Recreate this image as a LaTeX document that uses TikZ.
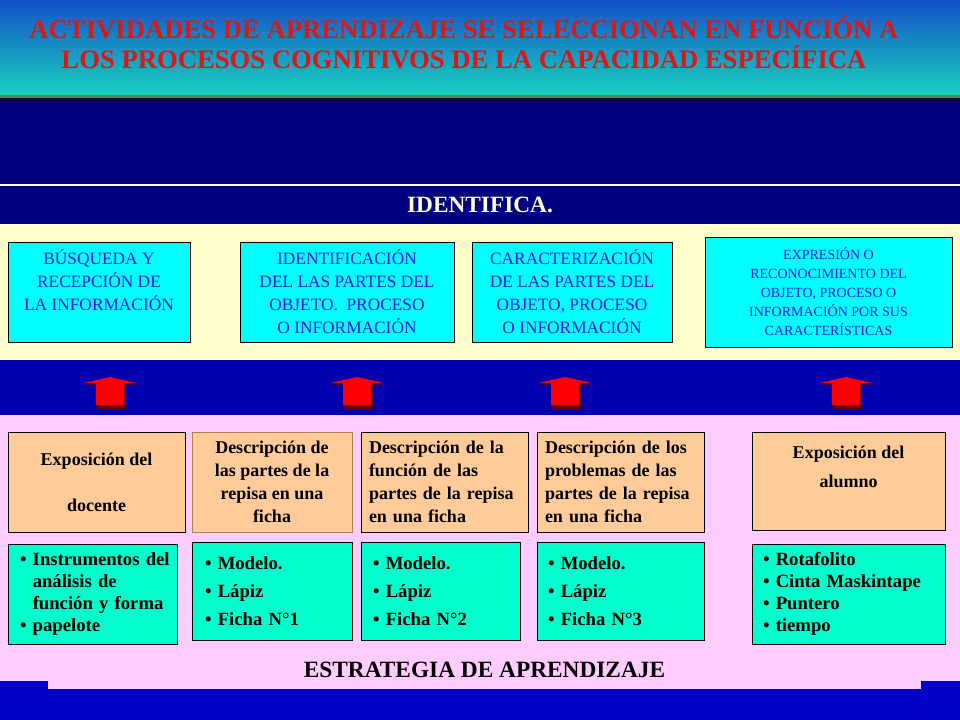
\documentclass[tikz,border=0pt]{standalone}
\usepackage{fontspec}
\setmainfont{Liberation Serif}
\definecolor{navyband}{RGB}{0,0,128}
\definecolor{midblue}{RGB}{0,0,175}
\definecolor{lowblue}{RGB}{0,0,200}
\definecolor{paleyellow}{RGB}{255,255,204}
\definecolor{palepink}{RGB}{255,204,255}
\definecolor{proccyan}{RGB}{0,255,255}
\definecolor{proctext}{RGB}{30,30,230}
\definecolor{actorange}{RGB}{255,204,153}
\definecolor{actedge}{RGB}{170,130,80}
\definecolor{resgreen}{RGB}{0,255,204}
\definecolor{titlered}{RGB}{215,25,25}
\definecolor{arrowred}{RGB}{255,0,0}
\definecolor{arrowdark}{RGB}{110,0,0}
\definecolor{bantop}{RGB}{20,80,200}
\definecolor{banmid}{RGB}{30,150,215}
\definecolor{banbot}{RGB}{25,210,190}
\definecolor{banline}{RGB}{80,130,120}
\definecolor{banedge}{RGB}{10,15,25}
\tikzset{
  procbox/.style={draw=black, fill=proccyan, text=proctext, align=center, inner sep=0pt,
    minimum height=75pt, font=\fontsize{13}{17.25}\selectfont},
  actbox/.style={draw=black, fill=actorange, inner sep=0pt, minimum height=75pt,
    font=\bfseries\fontsize{13.5}{17.25}\selectfont},
  resbox/.style={draw=black, fill=resgreen, align=left, inner sep=0pt, minimum height=75pt,
    font=\bfseries\fontsize{14}{16.5}\selectfont},
}
\begin{document}
\begin{tikzpicture}[x=0.75pt,y=-0.75pt]
\useasboundingbox (0,0) rectangle (960,720);
% bands
\shade[top color=bantop, middle color=banmid, bottom color=banbot] (0,0) rectangle (960,95);
\fill[banline] (0,95) rectangle (960,98);
\fill[banedge] (0,98) rectangle (960,101);
\fill[navyband] (0,101) rectangle (960,224);
\draw[white, line width=1.2pt] (0,185) -- (960,185);
\fill[paleyellow] (0,224) rectangle (960,360);
\fill[midblue] (0,360) rectangle (960,415);
\fill[palepink] (0,415) rectangle (960,681);
\fill[lowblue] (0,681) rectangle (960,720);

% title
\node[align=center, text=titlered, font=\bfseries\fontsize{20}{22.5}\selectfont] (title) at (464,42.5)
  {ACTIVIDADES DE APRENDIZAJE SE SELECCIONAN EN FUNCIÓN A\\LOS PROCESOS COGNITIVOS DE LA CAPACIDAD ESPECÍFICA};
\node[text=paleyellow, font=\bfseries\fontsize{17.5}{20}\selectfont] (ident) at (480,205) {IDENTIFICA.};

% cognitive processes
\node[procbox, minimum width=136.5pt] (busq) at (99,292) {BÚSQUEDA Y\\RECEPCIÓN DE\\LA INFORMACIÓN\\\mbox{}};
\node[procbox, minimum width=160.5pt] (idpar) at (347,292) {IDENTIFICACIÓN\\DEL LAS PARTES DEL\\OBJETO.\ \ PROCESO\\O INFORMACIÓN};
\node[procbox, minimum width=150pt] (carac) at (572,292) {CARACTERIZACIÓN\\DE LAS PARTES DEL\\OBJETO, PROCESO\\O INFORMACIÓN};
\node[procbox, minimum width=185.25pt, minimum height=82.5pt, font=\fontsize{10.5}{14.25}\selectfont] (expr) at (828.5,292)
  {EXPRESIÓN O\\RECONOCIMIENTO DEL\\OBJETO, PROCESO O\\INFORMACIÓN POR SUS\\CARACTERÍSTICAS};

% arrows
\foreach \ax in {110,357,565,846} {
  \fill[arrowdark] (\ax+1.5,378.5) -- (\ax+27.5,384.5) -- (\ax+15.5,384.5) -- (\ax+15.5,409) -- (\ax-12.5,409) -- (\ax-12.5,384.5) -- (\ax-24.5,384.5) -- cycle;
  \fill[arrowred] (\ax,377) -- (\ax+26,383) -- (\ax+14,383) -- (\ax+14,405) -- (\ax-14,405) -- (\ax-14,383) -- (\ax-26,383) -- cycle;
}

% activities
\node[actbox, align=center, minimum width=132.75pt] (expdoc) at (96.5,482) {Exposición del\\[17pt]docente};
\node[actbox, align=center, minimum width=120pt, draw=actedge] (despar) at (272,482)
  {Descripción de\\las partes de la\\repisa en una\\ficha};
\node[actbox, align=left, minimum width=125.25pt, text width=113.25pt] (desfun) at (444.5,482)
  {Descripción de la\\función de las\\partes de la repisa\\en una ficha};
\node[actbox, align=left, minimum width=125.25pt, text width=113.25pt] (desprob) at (620.5,482)
  {Descripción de los\\problemas de las\\partes de la repisa\\en una ficha};
\node[actbox, align=center, minimum width=144.75pt, minimum height=73.5pt, font=\bfseries\fontsize{13.5}{21.75}\selectfont] (expalu) at (848.5,481)
  {Exposición del\\alumno\\\mbox{}};

% resources
\node[resbox, minimum width=126.75pt, text width=108.75pt] (recdoc) at (92.5,594)
  {\mbox{\textbullet\ Instrumentos del}\\\phantom{\textbullet\ }análisis de\\\phantom{\textbullet\ }función y forma\\\textbullet\ papelote};
\node[resbox, minimum width=120pt, minimum height=73.5pt, text width=100.5pt, font=\bfseries\fontsize{14}{21}\selectfont] (recuno) at (272,591)
  {\textbullet\ Modelo.\\\textbullet\ Lápiz\\\textbullet\ Ficha N°1};
\node[resbox, minimum width=119.25pt, minimum height=73.5pt, text width=101.25pt, font=\bfseries\fontsize{14}{21}\selectfont] (recdos) at (440.5,591)
  {\textbullet\ Modelo.\\\textbullet\ Lápiz\\\textbullet\ Ficha N°2};
\node[resbox, minimum width=125.25pt, minimum height=73.5pt, text width=108.75pt, font=\bfseries\fontsize{14}{21}\selectfont] (rectres) at (620.5,591)
  {\textbullet\ Modelo.\\\textbullet\ Lápiz\\\textbullet\ Ficha N°3};
\node[resbox, minimum width=144.75pt, text width=128.25pt] (recalu) at (848.5,594)
  {\textbullet\ Rotafolito\\\textbullet\ Cinta Maskintape\\\textbullet\ Puntero\\\textbullet\ tiempo};

% strategy label
\node[fill=palepink, inner sep=0pt, minimum width=654.75pt, minimum height=29.25pt,
  font=\bfseries\fontsize{17.5}{20}\selectfont] (estr) at (484.5,669.5) {ESTRATEGIA DE APRENDIZAJE};
\end{tikzpicture}
\end{document}
